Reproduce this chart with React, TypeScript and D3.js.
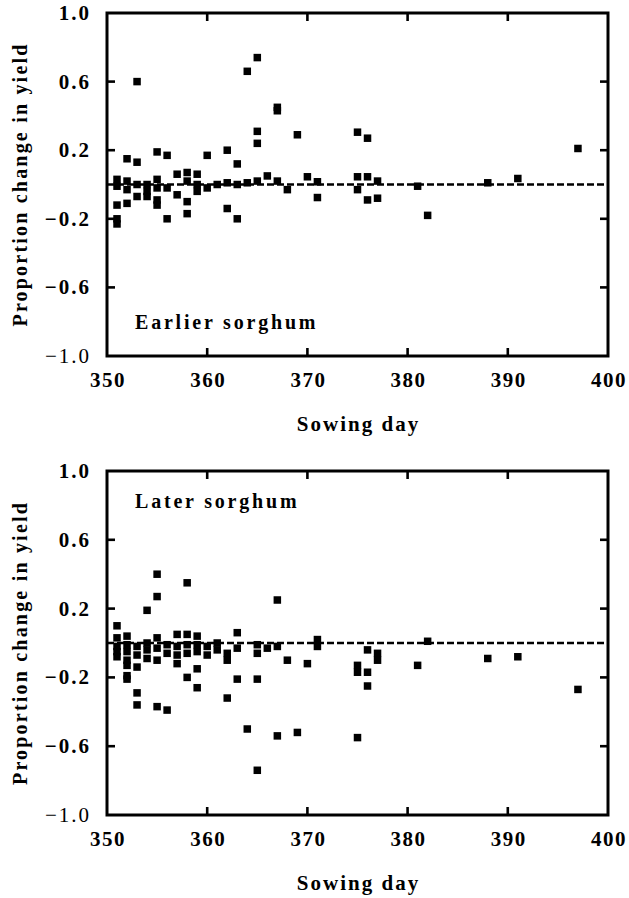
import React from 'react';
import * as d3 from 'd3';

// ---- data ----
const xTickValues = [350, 360, 370, 380, 390, 400];
const yTickValues = [1.0, 0.6, 0.2, -0.2, -0.6, -1.0];
const yTickLabels = ['1.0', '0.6', '0.2', '\u22120.2', '\u22120.6', '\u22121.0'];

const earlierDays = [
  351, 351, 351, 351, 351,
  352, 352, 352, 352,
  353, 353, 353, 353,
  354, 354, 354,
  355, 355, 355, 355, 355,
  356, 356, 356,
  357, 357,
  358, 358, 358, 358,
  359, 359, 359,
  360, 360,
  361,
  362, 362, 362,
  363, 363, 363,
  364, 364,
  365, 365, 365, 365,
  366,
  367, 367, 367,
  368,
  369,
  370,
  371, 371,
  375, 375, 375,
  376, 376, 376,
  377, 377,
  381, 382, 388, 391, 397,
];
const earlierValues = [
  0.03, -0.01, -0.12, -0.2, -0.23,
  0.15, 0.02, -0.03, -0.11,
  0.6, 0.13, 0.0, -0.07,
  0.0, -0.04, -0.07,
  0.19, 0.03, -0.02, -0.09, -0.12,
  0.17, -0.02, -0.2,
  0.06, -0.06,
  0.07, 0.02, -0.1, -0.17,
  0.06, 0.0, -0.04,
  0.17, -0.02,
  0.0,
  0.2, 0.01, -0.14,
  0.12, 0.0, -0.2,
  0.66, 0.01,
  0.74, 0.31, 0.24, 0.02,
  0.05,
  0.45, 0.43, 0.02,
  -0.03,
  0.29,
  0.045,
  0.016, -0.076,
  0.305, 0.045, -0.03,
  0.27, 0.045, -0.09,
  0.02, -0.08,
  -0.01, -0.18, 0.01, 0.035, 0.21,
];

const laterDays = [
  351, 351, 351, 351, 351,
  352, 352, 352, 352, 352, 352, 352,
  353, 353, 353, 353, 353,
  354, 354, 354, 354,
  355, 355, 355, 355, 355, 355,
  356, 356, 356,
  357, 357, 357, 357,
  358, 358, 358, 358, 358,
  359, 359, 359, 359, 359,
  360, 360,
  361, 361,
  362, 362, 362,
  363, 363, 363,
  364,
  365, 365, 365, 365,
  366,
  367, 367, 367,
  368, 369, 370,
  371, 371,
  375, 375, 375,
  376, 376, 376,
  377, 377,
  381, 382, 388, 391, 397,
];
const laterValues = [
  0.1, 0.03, -0.02, -0.05, -0.08,
  0.04, -0.01, -0.05, -0.1, -0.13, -0.19, -0.21,
  -0.02, -0.07, -0.14, -0.29, -0.36,
  0.19, 0.0, -0.04, -0.09,
  0.4, 0.27, 0.03, -0.03, -0.1, -0.37,
  -0.01, -0.06, -0.39,
  0.05, -0.02, -0.07, -0.12,
  0.35, 0.05, -0.01, -0.06, -0.2,
  0.04, -0.01, -0.05, -0.15, -0.26,
  -0.02, -0.07,
  0.0, -0.04,
  -0.06, -0.1, -0.32,
  0.06, -0.03, -0.21,
  -0.5,
  -0.01, -0.06, -0.21, -0.74,
  -0.03,
  0.25, -0.02, -0.54,
  -0.1, -0.52, -0.12,
  0.02, -0.02,
  -0.13, -0.17, -0.55,
  -0.04, -0.17, -0.25,
  -0.06, -0.1,
  -0.13, 0.01, -0.09, -0.08, -0.27,
];

const FONT = '"Liberation Serif", "Times New Roman", serif';

type PanelProps = {
  top: number;
  bottom: number;
  days: number[];
  values: number[];
  label: string;
  labelY: number;
};

const LEFT = 107;
const RIGHT = 608;
const TICK = 8;
const MARK = 7.5;

function Panel({ top, bottom, days, values, label, labelY }: PanelProps) {
  const x = d3.scaleLinear().domain([350, 400]).range([LEFT, RIGHT]);
  const y = d3.scaleLinear().domain([-1, 1]).range([bottom, top]);
  const innerX = xTickValues.slice(1, -1);
  const innerY = yTickValues.slice(1, -1);
  const points = d3.zip(days, values) as [number, number][];
  return (
    <g>
      <line x1={x(350)} x2={x(400)} y1={y(0)} y2={y(0)} stroke="#000" strokeWidth={2.6} strokeDasharray="7,3" />
      <rect x={x(350)} y={y(1)} width={x(400) - x(350)} height={y(-1) - y(1)} fill="none" stroke="#000" strokeWidth={3} />
      {innerX.map((t) => (
        <g key={'x' + t}>
          <line x1={x(t)} x2={x(t)} y1={y(-1)} y2={y(-1) - TICK} stroke="#000" strokeWidth={2.6} />
          <line x1={x(t)} x2={x(t)} y1={y(1)} y2={y(1) + TICK} stroke="#000" strokeWidth={2.6} />
        </g>
      ))}
      {innerY.map((t) => (
        <g key={'y' + t}>
          <line x1={x(350)} x2={x(350) + TICK} y1={y(t)} y2={y(t)} stroke="#000" strokeWidth={2.6} />
          <line x1={x(400)} x2={x(400) - TICK} y1={y(t)} y2={y(t)} stroke="#000" strokeWidth={2.6} />
        </g>
      ))}
      {xTickValues.map((t) => (
        <text key={'xl' + t} x={x(t) + 1} y={y(-1) + 31} textAnchor="middle" fontFamily={FONT} fontWeight="bold" fontSize={21} letterSpacing={1.5}>
          {t}
        </text>
      ))}
      {yTickValues.map((t, i) => (
        <text key={'yl' + t} x={91} y={y(t) + 7} textAnchor="end" fontFamily={FONT} fontWeight={t === -1 ? 'normal' : 'bold'} fontSize={21} letterSpacing={2}>
          {yTickLabels[i]}
        </text>
      ))}
      <text x={(x(350) + x(400)) / 2 + 1} y={y(-1) + 75} textAnchor="middle" fontFamily={FONT} fontWeight="bold" fontSize={21} letterSpacing={2}>
        Sowing day
      </text>
      <text
        transform={`translate(27, ${(y(1) + y(-1)) / 2}) rotate(-90)`}
        textAnchor="middle"
        fontFamily={FONT}
        fontWeight="bold"
        fontSize={20}
        letterSpacing={2.2}
      >
        Proportion change in yield
      </text>
      <text x={135} y={labelY} fontFamily={FONT} fontWeight="bold" fontSize={20} letterSpacing={2.8}>
        {label}
      </text>
      {points.map(([d, v], i) => (
        <rect key={i} x={x(d) - MARK / 2} y={y(v) - MARK / 2} width={MARK} height={MARK} fill="#000" />
      ))}
    </g>
  );
}

export default function App() {
  return (
    <svg width={629} height={898} style={{ position: 'absolute', left: 0, top: 0, background: '#fff' }}>
      <rect x={0} y={0} width={629} height={898} fill="#fff" />
      <Panel top={13} bottom={356} days={earlierDays} values={earlierValues} label="Earlier sorghum" labelY={329} />
      <Panel top={471} bottom={815} days={laterDays} values={laterValues} label="Later sorghum" labelY={508} />
    </svg>
  );
}
